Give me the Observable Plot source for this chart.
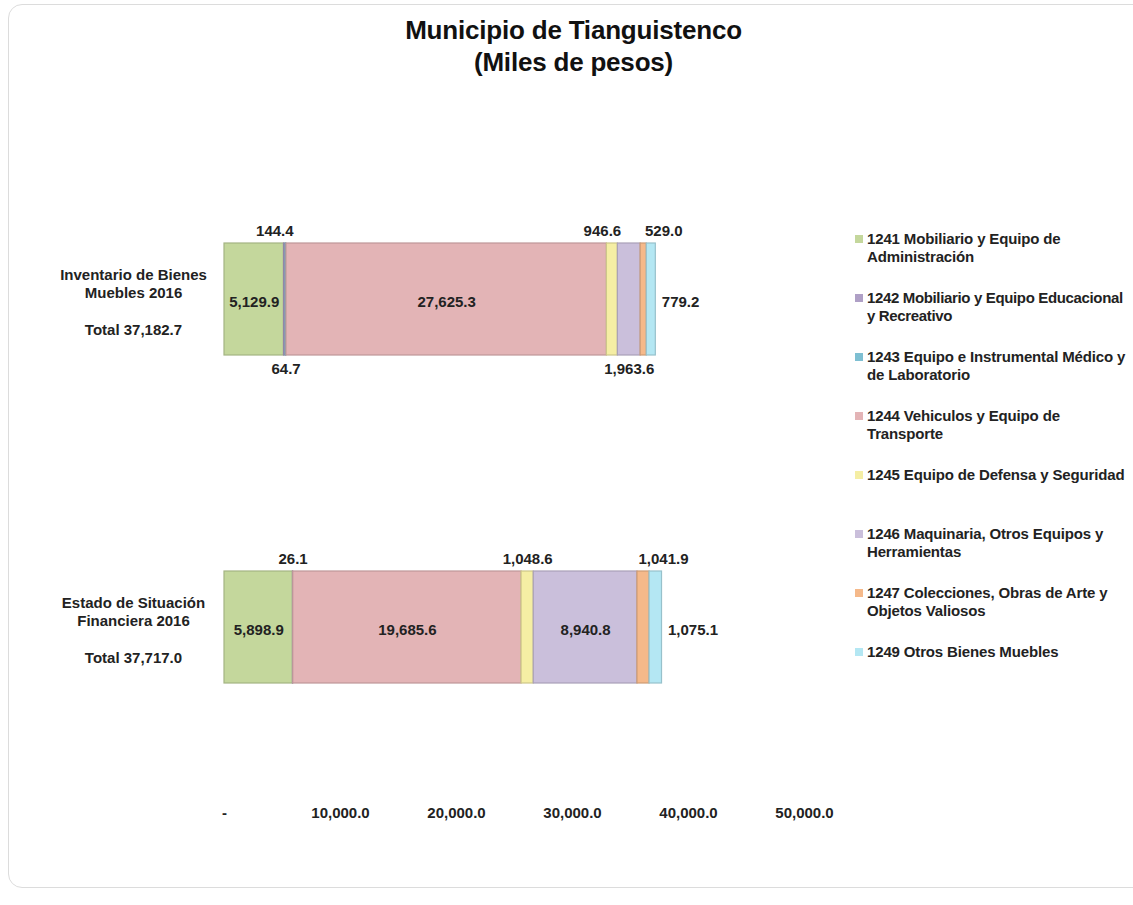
<!DOCTYPE html>
<html><head><meta charset="utf-8">
<script src="https://cdn.jsdelivr.net/npm/d3@7"></script>
<script src="https://cdn.jsdelivr.net/npm/@observablehq/plot@0.6"></script>
<style>
body{margin:0;background:#fff;font-family:"Liberation Sans",Arial,sans-serif;}
#wrap{position:relative;width:1133px;height:905px;overflow:hidden;background:#fff;}
#frame{position:absolute;left:8px;top:4px;width:1160px;height:884px;border:1px solid #dcdcdc;border-radius:14px;box-sizing:border-box;pointer-events:none;}
#title{position:relative;height:100px;padding-top:14px;box-sizing:border-box;text-align:center;font-weight:bold;font-size:26px;line-height:32px;color:#111;padding-left:14px;letter-spacing:-0.2px;}
#chart{position:relative;}
#legend{position:absolute;left:855px;top:0;width:278px;font-weight:bold;font-size:15px;line-height:18px;color:#222;}
.item{position:absolute;left:0;white-space:nowrap;}
.sw{position:absolute;left:0;top:5px;width:8px;height:8px;}
.tx{position:absolute;left:12px;top:0;letter-spacing:-0.15px;}
</style>
</head><body>
<div id="wrap">
  <div id="frame"></div>
  <div id="title">Municipio de Tianguistenco<br>(Miles de pesos)</div>
  <div id="chart"></div>
  <div id="legend"></div>
</div>
<script>
// ---- data ----
const groups = ["Inventario de Bienes\nMuebles 2016", "Estado de Situación\nFinanciera 2016"];
const categories = [
  "1241 Mobiliario y Equipo de Administración",
  "1242 Mobiliario y Equipo Educacional y Recreativo",
  "1243 Equipo e Instrumental Médico y de Laboratorio",
  "1244 Vehiculos y Equipo de Transporte",
  "1245 Equipo de Defensa y Seguridad",
  "1246 Maquinaria, Otros Equipos y Herramientas",
  "1247 Colecciones, Obras de Arte y Objetos Valiosos",
  "1249 Otros Bienes Muebles"
];
const inventario2016 = [5129.9, 144.4, 64.7, 27625.3, 946.6, 1963.6, 529.0, 779.2];
const estadoSituacion2016 = [5898.9, 26.1, 0, 19685.6, 1048.6, 8940.8, 1041.9, 1075.1];
const xTicks = [0, 10000, 20000, 30000, 40000, 50000];
const legendLines = [
  ["1241 Mobiliario y Equipo de", "Administración"],
  ["1242 Mobiliario y Equipo Educacional", "y Recreativo"],
  ["1243 Equipo e Instrumental Médico y", "de Laboratorio"],
  ["1244 Vehiculos y Equipo de", "Transporte"],
  ["1245 Equipo de Defensa y Seguridad"],
  ["1246 Maquinaria, Otros Equipos y", "Herramientas"],
  ["1247 Colecciones, Obras de Arte y", "Objetos Valiosos"],
  ["1249 Otros Bienes Muebles"]
];

// ---- styles ----
const colors = ["#c4d79c", "#afa0c6", "#7ebfd2", "#e3b4b6", "#f5eea4", "#cabfdb", "#f5b98a", "#b4e7f3"];
const placements = [
  ["in", "aboveL", "below", "in", "aboveL", "below", "aboveR", "right"],
  ["in", "above", "none", "in", "above", "in", "aboveR", "right"]
];

const series = [inventario2016, estadoSituacion2016];
const fmt = d3.format(",.1f");
const rows = [];
series.forEach((vals, gi) => {
  let acc = 0;
  vals.forEach((v, ci) => {
    rows.push({group: groups[gi], cat: categories[ci], value: v, start: acc, end: acc + v,
      mid: acc + v / 2, place: placements[gi][ci], label: fmt(v)});
    acc += v;
  });
});
const totals = groups.map((g, gi) => ({group: g, label: "Total " + fmt(d3.sum(series[gi]))}));
const bars = rows.filter(d => d.value > 0);
const lbl = p => rows.filter(d => d.place === p);
const font = {fontWeight: "bold", fontSize: 15, fill: "#222"};
const gfont = {fontWeight: "bold", fontSize: 15, fill: "#222"};

const plot = Plot.plot({
  width: 1133,
  height: 805,
  marginLeft: 224,
  marginRight: 329,
  marginTop: 0,
  marginBottom: 100,
  style: {fontFamily: "'Liberation Sans', Arial, sans-serif", background: "transparent", overflow: "visible"},
  x: {domain: [0, 50000], ticks: xTicks, tickFormat: d => d === 0 ? "-" : fmt(d)},
  y: {domain: groups, range: [143, 583], paddingInner: 0.66, paddingOuter: 0},
  color: {domain: categories, range: colors},
  marks: [
    Plot.barX(bars, {x: "value", y: "group", fill: "cat", stroke: d => d3.color(colors[categories.indexOf(d.cat)]).darker(0.5).formatHex(), strokeWidth: 1.2, order: null}),
    Plot.text(lbl("in"), {x: "mid", y: "group", text: "label", dy: 3, ...font}),
    Plot.text(lbl("above"), {x: "mid", y: "group", text: "label", dy: -68, ...font}),
    Plot.text(lbl("aboveL"), {x: "mid", y: "group", text: "label", dx: -10, dy: -68, ...font}),
    Plot.text(lbl("aboveR"), {x: "mid", y: "group", text: "label", dx: 20, dy: -68, ...font}),
    Plot.text(lbl("below"), {x: "mid", y: "group", text: "label", dy: 70, ...font}),
    Plot.text(lbl("right"), {x: "end", y: "group", text: "label", dx: 6, dy: 3, textAnchor: "start", ...font}),
    Plot.text(groups, {y: d => d, text: d => d, frameAnchor: "left", textAnchor: "middle", dx: -91, dy: -16, lineHeight: 1.2, ...gfont}),
    Plot.text(totals, {y: "group", text: "label", frameAnchor: "left", textAnchor: "middle", dx: -91, dy: 31, ...gfont}),
    Plot.axisX({ticks: xTicks, tickFormat: d => d === 0 ? "-" : fmt(d), tickSize: 0, tickPadding: 2, fontWeight: "bold", fontSize: 15, fill: "#222", label: null}),
    Plot.axisY({ticks: [], label: null})
  ]
});
document.getElementById("chart").appendChild(plot);

// legend
const leg = d3.select("#legend");
legendLines.forEach((lines, i) => {
  const it = leg.append("div").attr("class", "item").style("top", (230 + i * 59) + "px");
  it.append("div").attr("class", "sw").style("background", colors[i]);
  it.append("div").attr("class", "tx").style("letter-spacing", lines[0].length > 35 ? "-0.35px" : null).html(lines.join("<br>"));
});
</script>
</body></html>
